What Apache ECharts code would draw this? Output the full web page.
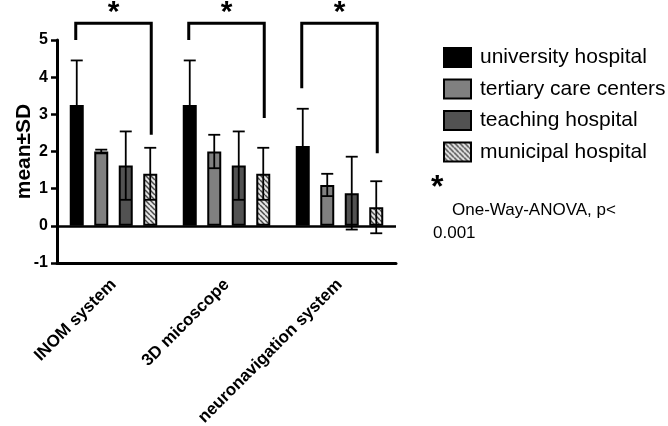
<!DOCTYPE html>
<html>
<head>
<meta charset="utf-8">
<script src="https://cdn.jsdelivr.net/npm/echarts@6/dist/echarts.min.js"></script>
<style>
  html, body { margin: 0; padding: 0; background: #fff; }
  #chart { width: 668px; height: 426px; }
</style>
</head>
<body>
<div id="chart"></div>
<script>
// values
const categories = ['INOM system', '3D micoscope', 'neuronavigation system']
const groupNames = ['university hospital', 'tertiary care centers', 'teaching hospital', 'municipal hospital']
const universityMean = [3.25, 3.25, 2.15]
const universitySD = [1.2, 1.2, 1.0]
const tertiaryMean = [2.0, 2.0, 1.1]
const tertiarySD = [0.05, 0.45, 0.3]
const teachingMean = [1.62, 1.62, 0.88]
const teachingSD = [0.92, 0.92, 0.98]
const municipalMean = [1.4, 1.4, 0.5]
const municipalSD = [0.7, 0.7, 0.7]
// significance brackets: top of bracket, end of left leg, end of right leg
const bracketTop = [5.45, 5.45, 5.45]
const bracketLeft = [5.0, 5.0, 3.7]
const bracketRight = [2.45, 2.9, 1.95]
const yTicks = [-1, 0, 1, 2, 3, 4, 5]

const FONT = '"Liberation Sans", Arial, sans-serif'
const BAR_W = 14
const BAR_GAP = 0.75
const PITCH = BAR_W * (1 + BAR_GAP)

// offset of the i-th bar from the category centre
function barOffset(i) {
  return (i - 1.5) * PITCH
}

// hatch fill for municipal hospital
let hatch = document.createElement('canvas')
hatch.width = 5
hatch.height = 5
let hctx = hatch.getContext('2d')
hctx.fillStyle = '#e6e6e6'
hctx.fillRect(0, 0, 5, 5)
hctx.strokeStyle = '#4a4a4a'
hctx.lineWidth = 1.5
for (let k = -1; k <= 1; k++) {
  hctx.beginPath()
  hctx.moveTo(k * 5, 0)
  hctx.lineTo(k * 5 + 5, 5)
  hctx.stroke()
}

const means = [universityMean, tertiaryMean, teachingMean, municipalMean]
const sds = [universitySD, tertiarySD, teachingSD, municipalSD]
const fills = ['#000000', '#808080', '#525252', { image: hatch, repeat: 'repeat' }]

let series = []
means.forEach((m, i) => {
  let s = {
    name: groupNames[i],
    type: 'bar',
    barWidth: BAR_W,
    barGap: (BAR_GAP * 100) + '%',
    data: m,
    itemStyle: {
      color: fills[i],
      borderColor: '#000',
      borderWidth: 2
    },
    emphasis: { disabled: true },
    animation: false
  }
  if (i === 0) {
    // line at zero
    s.markLine = {
      silent: true,
      symbol: ['none', 'none'],
      label: { show: false },
      lineStyle: { color: '#000', width: 2.5, type: 'solid' },
      data: [{ yAxis: 0 }]
    }
  }
  series.push(s)
})

// error bars
means.forEach((m, i) => {
  series.push({
    name: groupNames[i] + ' SD',
    type: 'custom',
    z: 5,
    animation: false,
    data: m.map((v, k) => [k, v, sds[i][k]]),
    encode: { x: 0, y: 1 },
    renderItem: (params, api) => {
      let idx = api.value(0)
      let mean = api.value(1)
      let sd = api.value(2)
      let hi = api.coord([idx, mean + sd])
      let lo = api.coord([idx, mean - sd])
      let x = hi[0] + barOffset(i)
      let cap = 6
      let st = { stroke: '#000', lineWidth: 1.8 }
      return {
        type: 'group',
        children: [
          { type: 'line', shape: { x1: x, y1: hi[1], x2: x, y2: lo[1] }, style: st },
          { type: 'line', shape: { x1: x - cap, y1: hi[1], x2: x + cap, y2: hi[1] }, style: st },
          { type: 'line', shape: { x1: x - cap, y1: lo[1], x2: x + cap, y2: lo[1] }, style: st }
        ]
      }
    }
  })
})

// significance brackets with asterisks
series.push({
  name: 'brackets',
  type: 'custom',
  z: 6,
  clip: false,
  animation: false,
  data: categories.map((c, k) => [k, bracketTop[k], bracketLeft[k], bracketRight[k]]),
  encode: { x: 0, y: 1 },
  renderItem: (params, api) => {
    let idx = api.value(0)
    let top = api.coord([idx, api.value(1)])
    let yl = api.coord([idx, api.value(2)])[1]
    let yr = api.coord([idx, api.value(3)])[1]
    let xl = top[0] + barOffset(0) - 1
    let xr = top[0] + barOffset(3) + 1
    return {
      type: 'group',
      children: [
        {
          type: 'polyline',
          shape: { points: [[xl, yl], [xl, top[1]], [xr, top[1]], [xr, yr]] },
          style: { stroke: '#000', lineWidth: 3, fill: null }
        },
        {
          type: 'text',
          style: {
            text: '*',
            x: top[0],
            y: top[1] - 11,
            align: 'center',
            verticalAlign: 'middle',
            font: 'bold 30px ' + FONT,
            fill: '#000'
          }
        }
      ]
    }
  }
})

let myChart = echarts.init(document.getElementById('chart'), null, { renderer: 'canvas' })
myChart.setOption({
  backgroundColor: '#fff',
  animation: false,
  grid: {
    left: 57,
    right: 272,
    top: 40,
    bottom: 163,
    containLabel: false,
    outerBoundsMode: 'none'
  },
  legend: {
    data: groupNames,
    orient: 'vertical',
    left: 443,
    top: 47,
    padding: 0,
    itemWidth: 27,
    itemHeight: 19,
    itemGap: 10.5,
    icon: 'rect',
    selectedMode: false,
    textStyle: {
      color: '#000',
      fontSize: 21,
      fontFamily: FONT,
      padding: [0, 0, 0, 4]
    }
  },
  xAxis: {
    type: 'category',
    data: categories,
    axisLine: {
      onZero: false,
      lineStyle: { color: '#000', width: 3 }
    },
    axisTick: {
      alignWithLabel: true,
      length: 7,
      lineStyle: { color: '#000', width: 3 }
    },
    axisLabel: {
      interval: 0,
      rotate: 45,
      margin: 19,
      color: '#000',
      fontSize: 17,
      fontWeight: 'bold',
      fontFamily: FONT
    },
    splitLine: { show: false }
  },
  yAxis: {
    type: 'value',
    min: yTicks[0],
    max: yTicks[yTicks.length - 1],
    interval: 1,
    name: 'mean±SD',
    nameLocation: 'middle',
    nameGap: 22,
    nameMoveOverlap: false,
    nameTextStyle: {
      color: '#000',
      fontSize: 21,
      fontWeight: 'bold',
      fontFamily: FONT
    },
    axisLine: {
      show: true,
      lineStyle: { color: '#000', width: 3 }
    },
    axisTick: {
      show: true,
      length: 6,
      lineStyle: { color: '#000', width: 2.5 }
    },
    axisLabel: {
      margin: 9,
      color: '#000',
      fontSize: 16,
      fontWeight: 'bold',
      fontFamily: FONT
    },
    splitLine: { show: false }
  },
  graphic: [
    {
      type: 'text',
      left: 431,
      top: 172,
      style: { text: '*', font: 'bold 32px ' + FONT, fill: '#000' }
    },
    {
      type: 'text',
      left: 452,
      top: 202,
      style: { text: 'One-Way-ANOVA, p<', font: '17px ' + FONT, fill: '#000' }
    },
    {
      type: 'text',
      left: 433,
      top: 225,
      style: { text: '0.001', font: '17px ' + FONT, fill: '#000' }
    }
  ],
  series: series
})
</script>
</body>
</html>
